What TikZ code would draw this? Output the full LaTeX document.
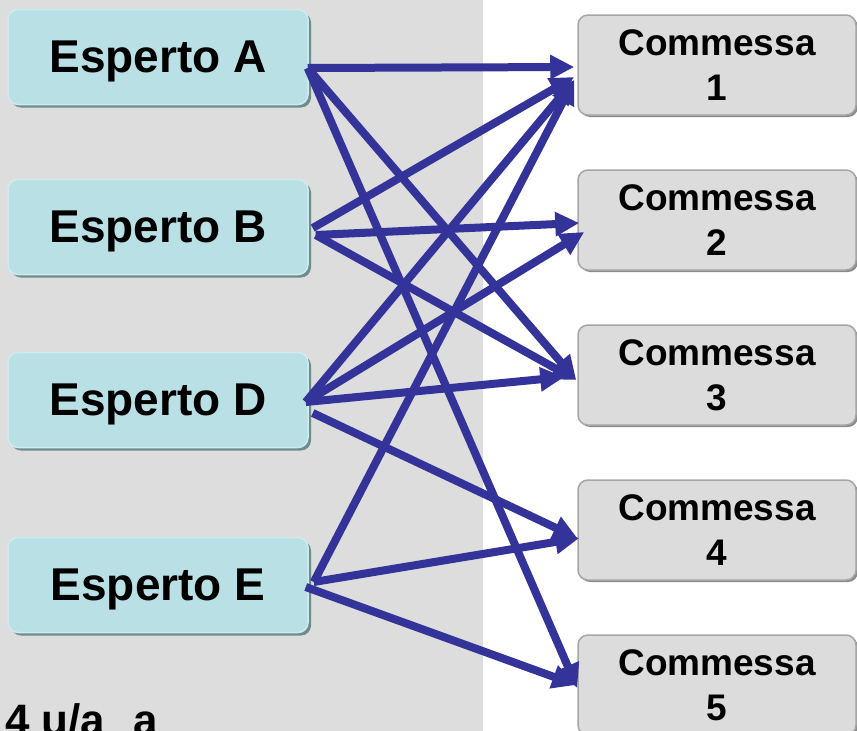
\documentclass[tikz,border=0pt]{standalone}
\usepackage{fontspec}
\setmainfont{Liberation Sans}
\usetikzlibrary{arrows.meta,shadows}
\definecolor{bggrey}{HTML}{DDDDDD}
\definecolor{cyanfill}{HTML}{B9E0E4}
\definecolor{cyanedge}{HTML}{CFEBEE}
\definecolor{cyanshadow}{HTML}{6F8C8C}
\definecolor{greyfill}{HTML}{DCDCDC}
\definecolor{greyedge}{HTML}{A6A6A6}
\definecolor{greyshadow}{HTML}{8A8A8A}
\definecolor{arrowblue}{HTML}{333399}
\tikzset{
  esperto/.style={rectangle, rounded corners=10pt, minimum width=300pt, minimum height=95pt,
    fill=cyanfill, draw=cyanedge, line width=1.5pt, inner sep=0pt, text depth=0pt,
    drop shadow={shadow xshift=3pt, shadow yshift=-3pt, fill=cyanshadow, opacity=1},
    font=\fontsize{46}{50}\selectfont\bfseries},
  commessa/.style={rectangle, rounded corners=10pt, minimum width=278pt, minimum height=100pt,
    fill=greyfill, draw=greyedge, line width=1.5pt, inner sep=0pt, align=center,
    drop shadow={shadow xshift=2pt, shadow yshift=-2pt, fill=greyshadow, opacity=1},
    font=\fontsize{37}{45}\selectfont\bfseries},
  arr/.style={draw=arrowblue, line width=8pt, -{Triangle[length=24pt,width=23pt]}},
}
\begin{document}
\begin{tikzpicture}[x=1pt,y=-1pt]
\useasboundingbox (0,0) rectangle (857,731);
\clip (0,0) rectangle (857,731);
\fill[white] (0,0) rectangle (857,731);
\fill[bggrey] (0,0) rectangle (483,731);

\node[esperto] (A) at (158,57) {Esperto A};
\node[esperto] (B) at (158,227) {Esperto B};
\node[esperto] (D) at (158,400) {Esperto D};
\node[esperto] (E) at (158,585) {Esperto E};

\node[commessa] (C1) at (717,65) {Commessa\\1};
\node[commessa] (C2) at (717,220) {Commessa\\2};
\node[commessa] (C3) at (717,375) {Commessa\\3};
\node[commessa] (C4) at (717,530) {Commessa\\4};
\node[commessa] (C5) at (717,685) {Commessa\\5};

\node[anchor=base west, inner sep=0pt, font=\fontsize{44}{48}\selectfont\bfseries] (note) at (5,735) {4 u/a\hspace{28pt}a};

% Esperto A
\draw[arr] ([shift={(-1,11)}]A.east) -- ([shift={(-3,2)}]C1.west);
\draw[arr] ([shift={(-1,11)}]A.east) -- ([shift={(-1,5)}]C3.west);
\draw[arr] ([shift={(-1,11)}]A.east) -- ([shift={(0,3)}]C5.west);
% Esperto B
\draw[arr] ([shift={(4,1)}]B.east) -- ([shift={(-3,12)}]C1.west);
\draw[arr] ([shift={(7,8)}]B.east) -- ([shift={(2,3)}]C2.west);
\draw[arr] ([shift={(7,8)}]B.east) -- ([shift={(-1,5)}]C3.west);
% Esperto D
\draw[arr] ([shift={(-3,2)}]D.east) -- ([shift={(-3,15)}]C1.west);
\draw[arr] ([shift={(-3,2)}]D.east) -- ([shift={(7,12)}]C2.west);
\draw[arr] ([shift={(-3,2)}]D.east) -- ([shift={(-13,2)}]C3.west);
\draw[arr] ([shift={(4,13)}]D.east) -- ([shift={(0,8)}]C4.west);
% Esperto E
\draw[arr] ([shift={(5,-3)}]E.east) -- ([shift={(-3,15)}]C1.west);
\draw[arr] ([shift={(5,-3)}]E.east) -- ([shift={(2,8)}]C4.west);
\draw[arr] ([shift={(-3,2)}]E.east) -- ([shift={(-1,0)}]C5.west);
\end{tikzpicture}
\end{document}
